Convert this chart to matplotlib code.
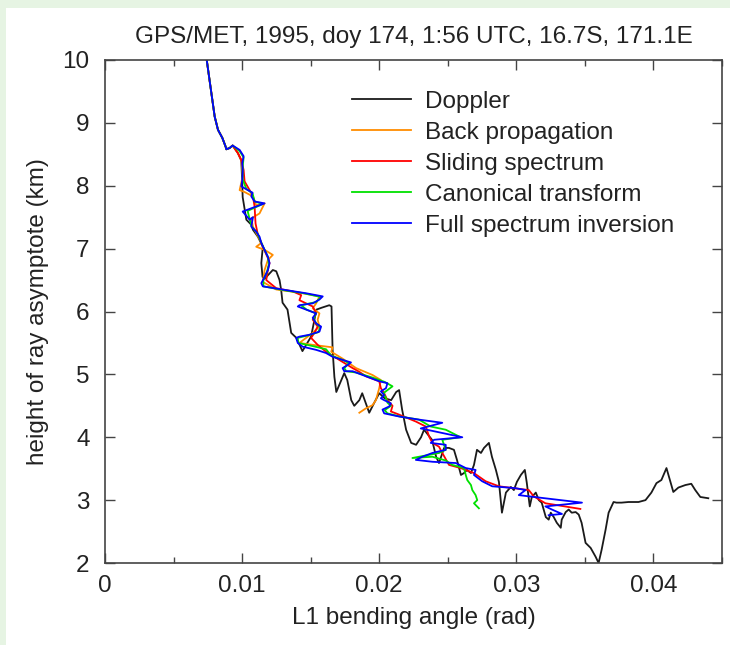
import matplotlib
matplotlib.use("Agg")
import matplotlib.pyplot as plt
from matplotlib.patches import Rectangle
from matplotlib.ticker import MultipleLocator, FixedLocator, FixedFormatter

plt.rcParams['font.family'] = ['Liberation Sans', 'DejaVu Sans']

title = "GPS/MET, 1995, doy 174, 1:56 UTC, 16.7S, 171.1E"
xlabel = "L1 bending angle (rad)"
ylabel = "height of ray asymptote (km)"
xticks = [0, 0.01, 0.02, 0.03, 0.04]
xtick_labels = ["0", "0.01", "0.02", "0.03", "0.04"]
yticks = [2, 3, 4, 5, 6, 7, 8, 9, 10]
series_names = ["Doppler", "Back propagation", "Sliding spectrum",
                "Canonical transform", "Full spectrum inversion"]

# common upper part (all methods agree above ~8.6 km)
top_x = [0.00742, 0.00776, 0.00800, 0.00824, 0.00856, 0.00880, 0.00885, 0.00909, 0.00931]
top_y = [10.00, 9.47, 9.10, 8.89, 8.76, 8.62, 8.58, 8.60, 8.64]

doppler_x = top_x + [
    0.00969, 0.00994, 0.01000, 0.01004, 0.01031, 0.01067, 0.01079, 0.01115, 0.01151,
    0.01140, 0.01149, 0.01164, 0.01224, 0.01249, 0.01273, 0.01285, 0.01295, 0.01331,
    0.01358, 0.01396, 0.01440, 0.01503, 0.01542, 0.01580, 0.01636, 0.01652, 0.01660,
    0.01673, 0.01687, 0.01724, 0.01745, 0.01767, 0.01796, 0.01818, 0.01855, 0.01876,
    0.01927, 0.01964, 0.02000, 0.02040, 0.02087, 0.02124, 0.02145, 0.02167, 0.02196,
    0.02233, 0.02269, 0.02305, 0.02327, 0.02385, 0.02415, 0.02436, 0.02473, 0.02509,
    0.02545, 0.02567, 0.02596, 0.02618, 0.02640, 0.02669, 0.02691, 0.02713, 0.02742,
    0.02764, 0.02800, 0.02822, 0.02851, 0.02873, 0.02895, 0.02924, 0.02960, 0.02982,
    0.03004, 0.03033, 0.03062, 0.03076, 0.03098, 0.03113, 0.03142, 0.03164, 0.03185,
    0.03215, 0.03236, 0.03251, 0.03273, 0.03295, 0.03324, 0.03331, 0.03360, 0.03382,
    0.03404, 0.03433, 0.03455, 0.03476, 0.03505, 0.03542, 0.03578, 0.03600, 0.03622,
    0.03651, 0.03673, 0.03709, 0.03731, 0.03767, 0.03818, 0.03891, 0.03942, 0.03985,
    0.04022, 0.04058, 0.04095, 0.04124, 0.04145, 0.04182, 0.04233, 0.04276, 0.04305,
    0.04342, 0.04400]
doppler_y = top_y + [
    8.52, 8.40, 8.10, 7.82, 7.46, 7.38, 7.30, 7.19, 7.03,
    6.77, 6.55, 6.52, 6.66, 6.64, 6.50, 6.34, 6.14, 6.03,
    5.66, 5.58, 5.37, 5.60, 6.03, 6.06, 6.10, 6.08, 5.39,
    4.96, 4.72, 4.91, 5.02, 4.91, 4.59, 4.50, 4.59, 4.70,
    4.39, 4.55, 4.70, 4.62, 4.59, 4.72, 4.75, 4.44, 4.12,
    3.91, 3.88, 4.00, 4.12, 3.96, 3.69, 3.59, 3.83, 3.83,
    3.80, 3.64, 3.40, 3.43, 3.48, 3.43, 3.56, 3.80, 3.75,
    3.83, 3.91, 3.69, 3.48, 3.29, 2.80, 3.12, 3.21, 3.16,
    3.29, 3.40, 3.48, 3.28, 2.90, 3.05, 3.12, 3.00, 2.96,
    2.73, 2.69, 2.80, 2.73, 2.64, 2.56, 2.69, 2.81, 2.85,
    2.80, 2.81, 2.77, 2.64, 2.32, 2.24, 2.10, 2.00, 2.21,
    2.53, 2.80, 2.97, 2.96, 2.96, 2.97, 2.97, 3.00, 3.12,
    3.27, 3.32, 3.51, 3.29, 3.13, 3.20, 3.24, 3.26, 3.16,
    3.05, 3.03]

backprop_x = top_x + [
    0.00969, 0.00994, 0.01004, 0.00982, 0.01018, 0.01079, 0.01103, 0.01164, 0.01127,
    0.01067, 0.01079, 0.01115, 0.01140, 0.01103, 0.01164, 0.01224, 0.01188, 0.01164,
    0.01151, 0.01249, 0.01418, 0.01564, 0.01540, 0.01515, 0.01564, 0.01551, 0.01564,
    0.01515, 0.01418, 0.01515, 0.01660, 0.01650, 0.01733, 0.01831, 0.01951, 0.02012,
    0.02000, 0.01976, 0.01951, 0.01903, 0.01855]
backprop_y = top_y + [
    8.52, 8.41, 8.15, 7.93, 7.90, 7.83, 7.69, 7.72, 7.56,
    7.48, 7.35, 7.20, 7.09, 7.03, 6.98, 6.90, 6.82, 6.66,
    6.47, 6.35, 6.30, 6.24, 6.13, 6.05, 5.97, 5.87, 5.76,
    5.66, 5.50, 5.47, 5.43, 5.36, 5.25, 5.10, 4.99, 4.91,
    4.78, 4.59, 4.51, 4.46, 4.39]

sliding_x = top_x + [
    0.00969, 0.00994, 0.01011, 0.01018, 0.01055, 0.01079, 0.01091, 0.01098, 0.01115,
    0.01151, 0.01188, 0.01200, 0.01188, 0.01176, 0.01249, 0.01369, 0.01431, 0.01418,
    0.01515, 0.01540, 0.01515, 0.01551, 0.01527, 0.01503, 0.01551, 0.01612, 0.01709,
    0.01806, 0.01855, 0.01903, 0.02000, 0.02012, 0.02036, 0.02060, 0.02097, 0.02085,
    0.02145, 0.02267, 0.02340, 0.02364, 0.02388, 0.02436, 0.02460, 0.02509, 0.02594,
    0.02691, 0.02776, 0.02873, 0.03091, 0.03127, 0.03212, 0.03467]
sliding_y = top_y + [
    8.52, 8.41, 8.25, 8.07, 7.93, 7.83, 7.67, 7.40, 7.22,
    7.03, 6.85, 6.77, 6.66, 6.50, 6.37, 6.32, 6.26, 6.18,
    6.08, 5.97, 5.87, 5.76, 5.66, 5.58, 5.47, 5.36, 5.23,
    5.10, 5.04, 4.97, 4.89, 4.78, 4.70, 4.59, 4.50, 4.41,
    4.36, 4.25, 4.17, 4.01, 3.91, 3.85, 3.75, 3.56, 3.51,
    3.43, 3.30, 3.22, 3.16, 3.06, 2.95, 2.86]

canonical_x = top_x + [
    0.00982, 0.01011, 0.01004, 0.01004, 0.01031, 0.01076, 0.01091, 0.01151, 0.01040,
    0.01055, 0.01070, 0.01110, 0.01135, 0.01164, 0.01188, 0.01195, 0.01180, 0.01155,
    0.01155, 0.01300, 0.01450, 0.01575, 0.01540, 0.01430, 0.01470, 0.01540, 0.01520,
    0.01545, 0.01570, 0.01555, 0.01480, 0.01405, 0.01410, 0.01515, 0.01612, 0.01650,
    0.01733, 0.01780, 0.01745, 0.01760, 0.01830, 0.01950, 0.02040, 0.02097, 0.02060,
    0.02030, 0.02050, 0.02060, 0.02085, 0.02040, 0.02060, 0.02150, 0.02290, 0.02376,
    0.02485, 0.02594, 0.02460, 0.02485, 0.02436, 0.02242, 0.02388, 0.02485, 0.02533,
    0.02618, 0.02631, 0.02642, 0.02669, 0.02679, 0.02703, 0.02715, 0.02691, 0.02727]
canonical_y = top_y + [
    8.55, 8.45, 8.30, 8.10, 7.95, 7.88, 7.75, 7.71, 7.60,
    7.47, 7.35, 7.25, 7.12, 6.98, 6.87, 6.75, 6.62, 6.50,
    6.40, 6.34, 6.29, 6.23, 6.15, 6.10, 6.03, 5.97, 5.88,
    5.80, 5.75, 5.67, 5.62, 5.58, 5.50, 5.45, 5.40, 5.30,
    5.23, 5.18, 5.10, 5.05, 5.03, 4.95, 4.88, 4.81, 4.75,
    4.70, 4.62, 4.55, 4.50, 4.43, 4.38, 4.33, 4.28, 4.17,
    4.12, 4.00, 3.96, 3.80, 3.75, 3.67, 3.69, 3.63, 3.56,
    3.51, 3.40, 3.32, 3.24, 3.16, 3.08, 3.00, 2.95, 2.87]

fullspec_x = top_x + [
    0.00982, 0.01011, 0.01001, 0.01004, 0.01001, 0.00994, 0.01018, 0.01076, 0.01067,
    0.01091, 0.01164, 0.01004, 0.01055, 0.01079, 0.01067, 0.01103, 0.01127, 0.01140,
    0.01164, 0.01188, 0.01200, 0.01188, 0.01164, 0.01140, 0.01151, 0.01321, 0.01467,
    0.01588, 0.01564, 0.01515, 0.01418, 0.01406, 0.01467, 0.01540, 0.01515, 0.01540,
    0.01576, 0.01564, 0.01491, 0.01418, 0.01394, 0.01406, 0.01442, 0.01540, 0.01612,
    0.01660, 0.01733, 0.01794, 0.01770, 0.01733, 0.01745, 0.01806, 0.01903, 0.02000,
    0.02060, 0.02049, 0.02012, 0.02036, 0.02012, 0.02036, 0.02085, 0.02073, 0.02024,
    0.02036, 0.02145, 0.02291, 0.02460, 0.02303, 0.02412, 0.02606, 0.02400, 0.02376,
    0.02485, 0.02485, 0.02388, 0.02315, 0.02267, 0.02388, 0.02558, 0.02631, 0.02703,
    0.02691, 0.02751, 0.02824, 0.02994, 0.03067, 0.03018, 0.03091, 0.03479, 0.03212,
    0.03260, 0.03333, 0.03236]
fullspec_y = top_y + [
    8.57, 8.47, 8.36, 8.25, 8.09, 7.99, 7.96, 7.89, 7.83,
    7.75, 7.72, 7.59, 7.46, 7.50, 7.35, 7.27, 7.19, 7.09,
    6.98, 6.87, 6.77, 6.66, 6.55, 6.45, 6.40, 6.34, 6.29,
    6.24, 6.19, 6.13, 6.10, 6.08, 6.03, 5.97, 5.90, 5.81,
    5.76, 5.68, 5.63, 5.60, 5.58, 5.50, 5.44, 5.39, 5.34,
    5.28, 5.23, 5.19, 5.15, 5.10, 5.05, 5.05, 4.97, 4.89,
    4.86, 4.78, 4.73, 4.67, 4.62, 4.59, 4.54, 4.49, 4.44,
    4.38, 4.33, 4.28, 4.23, 4.14, 4.09, 4.00, 3.96, 3.91,
    3.88, 3.80, 3.75, 3.69, 3.64, 3.61, 3.59, 3.51, 3.48,
    3.40, 3.30, 3.22, 3.19, 3.16, 3.08, 3.06, 2.96, 2.90,
    2.85, 2.78, 2.76]

colors = ["#1a1a1a", "#ff8c00", "#ff0000", "#00e000", "#0000ff"]
FS = 17.5

fig = plt.figure(figsize=(7.30, 6.45), dpi=100)
fig.patch.set_facecolor("#e6f4e3")
bg = Rectangle((6 / 730, 0), 1, 1 - 8 / 645, transform=fig.transFigure,
               facecolor="white", edgecolor="none", zorder=-10)
fig.add_artist(bg)
ax = fig.add_axes([105 / 730, (645 - 563) / 645, (722 - 105) / 730, (563 - 60) / 645])
ax.set_zorder(1)
ax.patch.set_alpha(0)

data = [(doppler_x, doppler_y), (backprop_x, backprop_y), (sliding_x, sliding_y),
        (canonical_x, canonical_y), (fullspec_x, fullspec_y)]
for (xs, ys), c, name in zip(data, colors, series_names):
    ax.plot(xs, ys, color=c, lw=1.3, label=name)

ax.set_xlim(0, 0.045)
ax.set_ylim(2, 10)
ax.xaxis.set_major_locator(FixedLocator(xticks))
ax.xaxis.set_major_formatter(FixedFormatter(xtick_labels))
ax.xaxis.set_minor_locator(MultipleLocator(0.005))
ax.set_yticks(yticks)
ax.tick_params(which="both", direction="in", top=True, right=True,
               colors="#444444", labelcolor="#222222", labelsize=FS)
ax.tick_params(which="major", length=7, width=1)
ax.tick_params(which="minor", length=4, width=1)
ax.tick_params(axis="x", pad=9)
ax.tick_params(axis="y", pad=11)
for s in ax.spines.values():
    s.set_color("#444444")
    s.set_linewidth(1.2)

ax.set_title(title, fontsize=FS, color="#222222", pad=12)
ax.set_xlabel(xlabel, fontsize=FS, color="#222222", labelpad=7)
ax.set_ylabel(ylabel, fontsize=FS, color="#222222", labelpad=10)

leg = ax.legend(loc="upper left", bbox_to_anchor=(0.385, 0.958), frameon=False,
                fontsize=FS, handlelength=2.4, handletextpad=0.58, labelspacing=0.37,
                borderaxespad=0)
for t in leg.get_texts():
    t.set_color("#222222")

fig.savefig("out.png", dpi=100, facecolor=fig.get_facecolor())
